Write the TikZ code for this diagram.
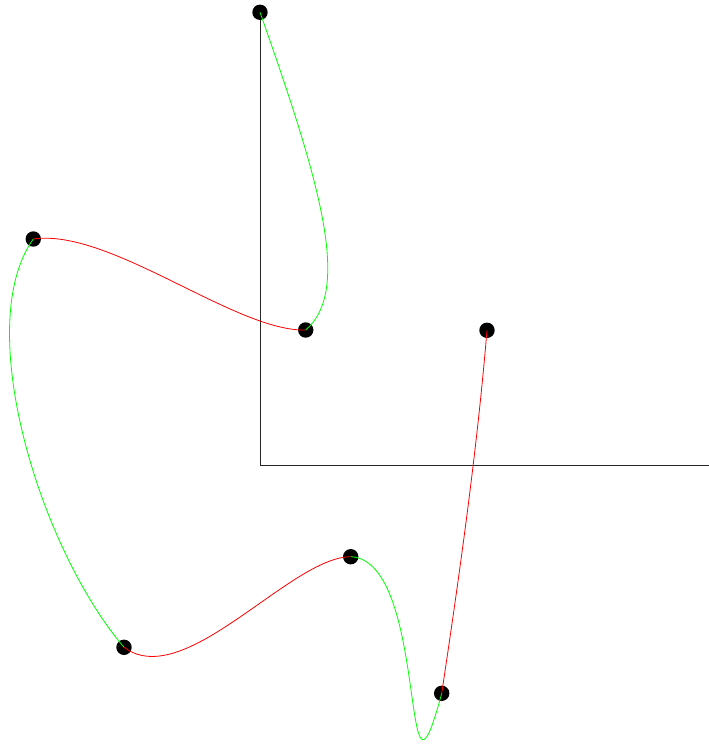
\documentclass[tikz,border=0pt]{standalone}
\usepackage{xcolor}
\definecolor{curvegreen}{RGB}{0,255,0}
\definecolor{curvered}{RGB}{255,0,0}
\begin{document}
\begin{tikzpicture}[x=1pt,y=-1pt,
  dot/.style={circle,fill=black,draw=none,minimum size=15.4pt,inner sep=0pt},
  axisline/.style={draw=black!85,line width=1pt},
  gseg/.style={draw=curvegreen,line width=0.8pt},
  rseg/.style={draw=curvered,line width=0.8pt}]
\useasboundingbox (0,0) rectangle (709,744);
% axes
\coordinate (ytop) at (260,12.3);
\coordinate (orig) at (260,465.3);
\coordinate (xend) at (709,465.3);
\draw[axisline] (ytop) -- (orig) -- (xend);
% points
\node[dot] (p0) at (260,12.3) {};
\node[dot] (p1) at (305.7,330) {};
\node[dot] (p2) at (33.3,239) {};
\node[dot] (p3) at (124,647.3) {};
\node[dot] (p4) at (350.7,556.7) {};
\node[dot] (p5) at (441.7,693.3) {};
\node[dot] (p6) at (487,330.3) {};
% curve segments
\draw[gseg] (p0.center) .. controls +(60,170) and +(46.3,-40) .. (p1.center);
\draw[rseg] (p1.center) .. controls +(-70,2) and +(76.7,-11) .. (p2.center);
\draw[gseg] (p2.center) .. controls +(-61.3,86) and +(-85,-100) .. (p3.center);
\draw[rseg] (p3.center) .. controls +(60,45) and +(-60,0) .. (p4.center);
\draw[gseg] (p4.center) .. controls +(79.3,3.3) and +(-41.7,156.7) .. (p5.center);
\draw[rseg] (p5.center) .. controls +(18,-120) and +(-10,120) .. (p6.center);
\end{tikzpicture}
\end{document}
